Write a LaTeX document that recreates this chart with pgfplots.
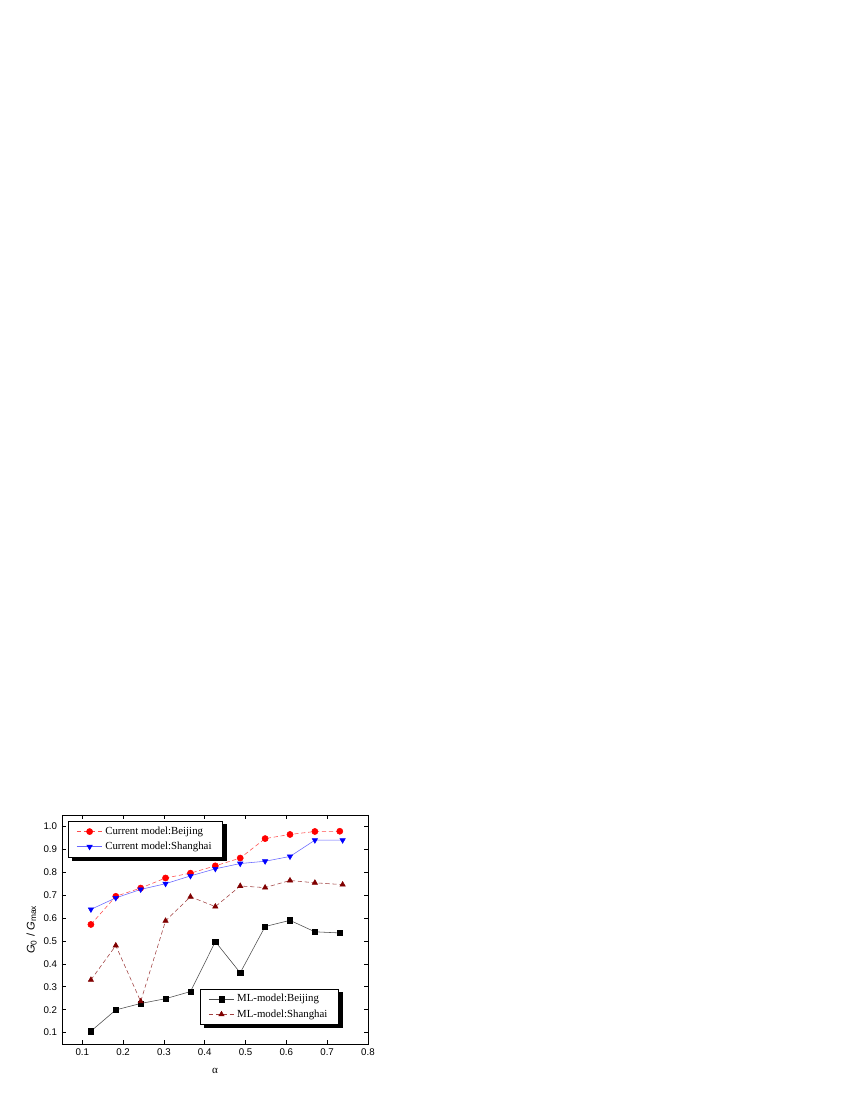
\documentclass[border=0pt]{standalone}
\usepackage{fontspec}
\setmainfont{Liberation Serif}
\newfontfamily\arialfont{Liberation Sans}
\usepackage{pgfplots}
\pgfplotsset{compat=1.18}
\definecolor{darkred}{RGB}{128,0,0}
\pgfdeclarelayer{background}
\pgfsetlayers{background,main}

\pgfplotsset{
  mylegend/.style={
    legend cell align=left,
    legend style={font=\fontsize{7.8}{9}\selectfont, draw=black, fill=white,
      inner xsep=6pt, inner ysep=2pt, row sep=0pt,
      /tikz/every even column/.style={column sep=5pt}},
    legend image code/.code={
      \draw[##1, line width=0.4pt, mark repeat=2, mark phase=2]
        plot coordinates {(0cm,0cm)(0.32cm,0cm)(0.64cm,0cm)};
    },
  },
}

\begin{document}
\begin{tikzpicture}
% page of 850x1100 px = 612pt x 792pt
\useasboundingbox (0,0) rectangle (612pt,792pt);
\begin{axis}[
  at={(44.6pt,40.3pt)}, anchor=south west,
  scale only axis,
  width=220.3pt, height=164.9pt,
  xmin=0.05, xmax=0.8, ymin=0.05, ymax=1.05,
  xtick={0.1,0.2,0.3,0.4,0.5,0.6,0.7,0.8},
  ytick={0.1,0.2,0.3,0.4,0.5,0.6,0.7,0.8,0.9,1.0},
  tick align=inside,
  major tick length=3pt,
  axis line style={line width=0.6pt},
  every tick/.style={black, line width=0.5pt},
  /pgf/number format/.cd, fixed, fixed zerofill, precision=1, assume math mode=true,
  /pgfplots/.cd,
  tick label style={font=\arialfont\fontsize{7}{8}\selectfont},
  xlabel={\fontsize{8}{9}\selectfont α},
  ylabel={\arialfont\fontsize{8}{9}\selectfont\textit{G}\textsubscript{0} / \textit{G}\textsubscript{max}},
  xlabel style={yshift=-2pt},
  ylabel style={yshift=-2pt},
  mylegend,
  legend style={at={(0.02,0.974)}, anchor=north west, name=legA},
  every axis plot/.append style={line width=0.4pt, mark size=2.2pt},
]
\addplot[red!70, densely dashed, mark=*, mark options={solid, fill=red, draw=red}] coordinates {
  (0.121,0.572)(0.182,0.695)(0.243,0.731)(0.304,0.775)(0.365,0.796)(0.426,0.828)
  (0.487,0.862)(0.548,0.947)(0.609,0.965)(0.670,0.978)(0.731,0.979)
};
\addlegendentry{Current model:Beijing}
\addplot[blue!60, solid, mark=triangle*, mark options={rotate=180, fill=blue, draw=blue}] coordinates {
  (0.121,0.638)(0.182,0.688)(0.243,0.725)(0.304,0.750)(0.365,0.784)(0.426,0.815)
  (0.487,0.838)(0.548,0.848)(0.609,0.869)(0.670,0.940)(0.738,0.940)
};
\addlegendentry{Current model:Shanghai}
\end{axis}

\begin{axis}[
  at={(44.6pt,40.3pt)}, anchor=south west,
  scale only axis,
  width=220.3pt, height=164.9pt,
  xmin=0.05, xmax=0.8, ymin=0.05, ymax=1.05,
  axis lines=none, ticks=none,
  mylegend,
  legend style={at={(0.451,0.083)}, anchor=south west, name=legB},
  every axis plot/.append style={line width=0.4pt, mark size=2.2pt},
]
\addplot[black!70, solid, mark=square*, mark size=1.9pt, mark options={fill=black, draw=black}] coordinates {
  (0.121,0.106)(0.182,0.199)(0.243,0.227)(0.304,0.248)(0.365,0.279)(0.426,0.497)
  (0.487,0.361)(0.548,0.563)(0.609,0.590)(0.670,0.540)(0.731,0.535)
};
\addlegendentry{ML-model:Beijing}
\addplot[darkred!75, densely dashed, mark=triangle*, mark options={solid, fill=darkred, draw=darkred}] coordinates {
  (0.121,0.330)(0.182,0.480)(0.243,0.236)(0.304,0.588)(0.365,0.693)(0.426,0.650)
  (0.487,0.740)(0.548,0.733)(0.609,0.764)(0.670,0.754)(0.738,0.746)
};
\addlegendentry{ML-model:Shanghai}
\end{axis}

% drop shadows of the two legend boxes
\begin{pgfonlayer}{background}
\foreach \l in {legA,legB}
  \fill[black] ([shift={(3pt,-2.5pt)}]\l.south west) rectangle ([shift={(3pt,-2.5pt)}]\l.north east);
\end{pgfonlayer}
\end{tikzpicture}
\end{document}
